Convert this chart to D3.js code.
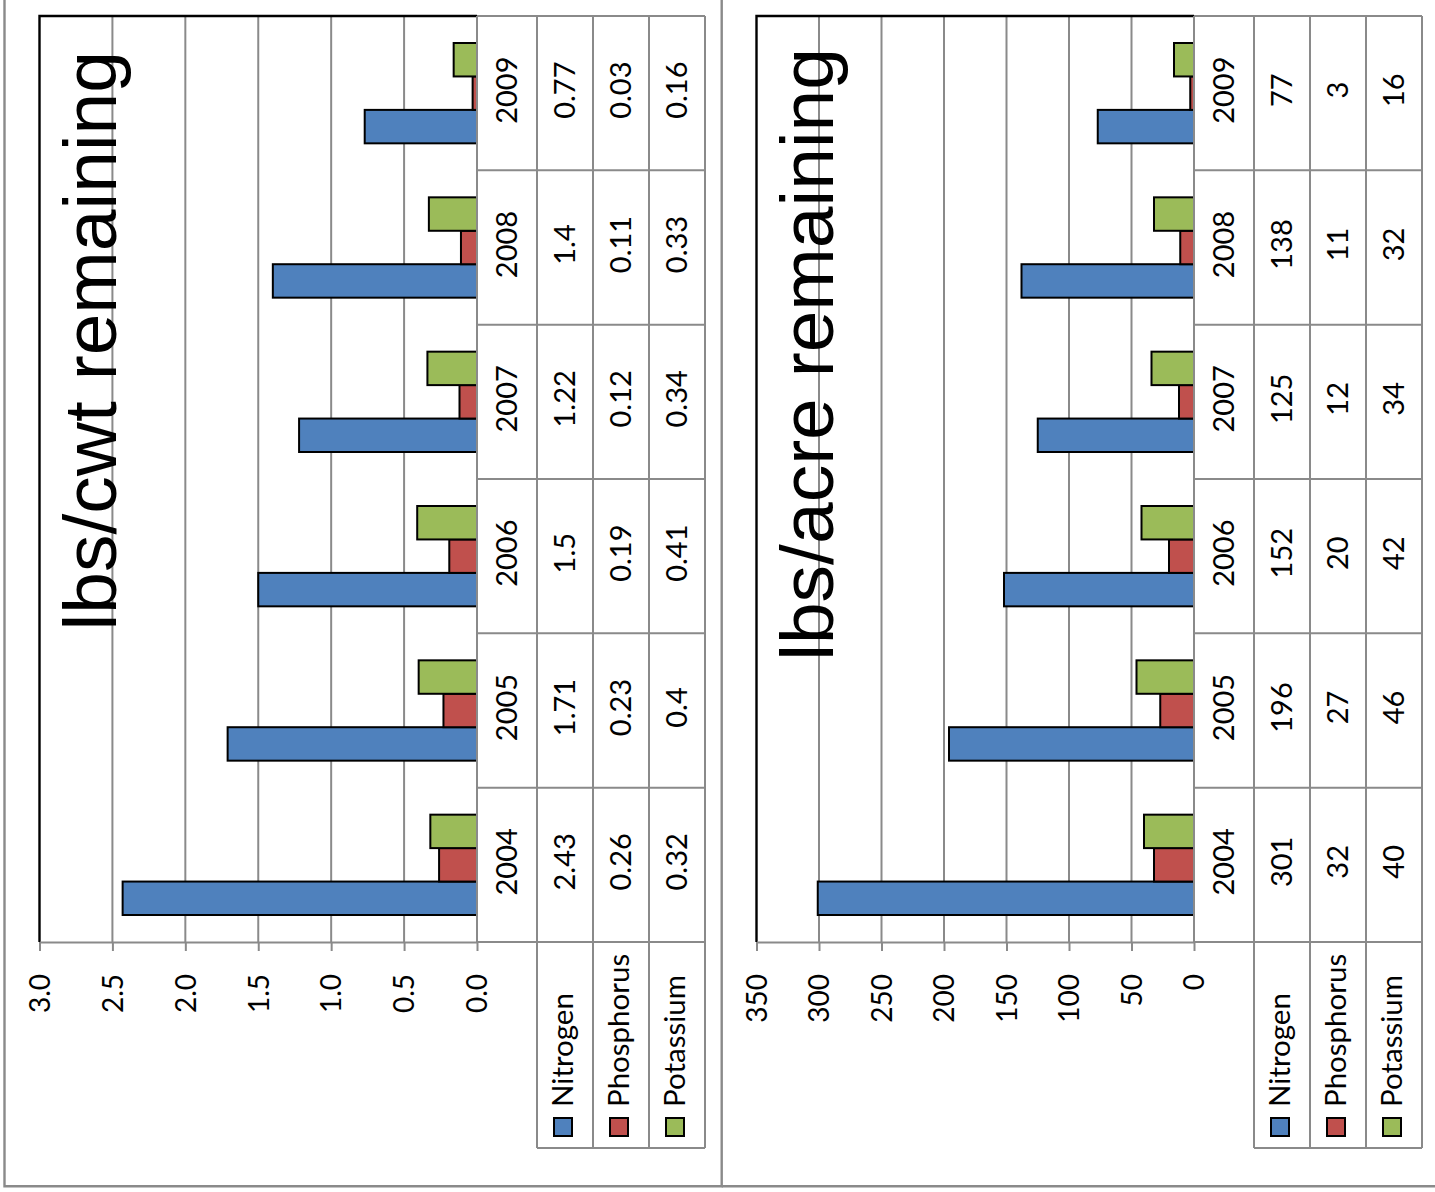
<!DOCTYPE html>
<html>
<head>
<meta charset="utf-8">
<script src="https://cdnjs.cloudflare.com/ajax/libs/d3/7.8.5/d3.min.js"></script>
<style>
  body { margin: 0; background: #fff; }
  svg { display: block; }
</style>
</head>
<body>
<svg id="chart" width="1435" height="1192"></svg>
<script>
// Fertilizer nutrients remaining, by year
const years = ["2004", "2005", "2006", "2007", "2008", "2009"];
const seriesNames = ["Nitrogen", "Phosphorus", "Potassium"];
const seriesColors = ["#4F81BD", "#C0504D", "#9BBB59"];

const cwtNitrogen   = [2.43, 1.71, 1.5, 1.22, 1.4, 0.77];
const cwtPhosphorus = [0.26, 0.23, 0.19, 0.12, 0.11, 0.03];
const cwtPotassium  = [0.32, 0.4, 0.41, 0.34, 0.33, 0.16];

const acreNitrogen   = [301, 196, 152, 125, 138, 77];
const acrePhosphorus = [32, 27, 20, 12, 11, 3];
const acrePotassium  = [40, 46, 42, 34, 32, 16];

const cwtTicks  = [0, 0.5, 1, 1.5, 2, 2.5, 3];
const acreTicks = [0, 50, 100, 150, 200, 250, 300, 350];

const panels = [
  { title: "lbs/cwt remaining", values: [cwtNitrogen, cwtPhosphorus, cwtPotassium],
    ticks: cwtTicks, fmt: d3.format(".1f"), dx: 0, titleEnd: 51 },
  { title: "lbs/acre remaining", values: [acreNitrogen, acrePhosphorus, acrePotassium],
    ticks: acreTicks, fmt: d3.format("d"), dx: 717, titleEnd: 48 }
];

// layout (panel-local, the chart is drawn turned on its side)
const plotLeft = 39.5, zeroX = 477, plotTop = 16, plotBottom = 942;
const colEdges = [477, 537, 593, 649, 705];
const legendBottom = 1148;
const GRAY = "#8a8a8a";
const SMALL_FONT = "Lato, 'Open Sans', sans-serif";

const svg = d3.select("#chart");

// outer chart frames
const frames = svg.append("g").attr("fill", "none").attr("stroke", GRAY).attr("stroke-width", 2.4);
frames.append("path").attr("d", "M4.5,-10V1186.3H721.7V-10");
frames.append("path").attr("d", "M721.7,1186.3H1445");

panels.forEach(p => {
  const g = svg.append("g").attr("transform", `translate(${p.dx},0)`);
  const maxV = p.ticks[p.ticks.length - 1];

  const x = d3.scaleLinear().domain([0, maxV]).range([zeroX, plotLeft]);
  const y = d3.scaleBand().domain(years).range([plotBottom, plotTop]);
  const pad = 27;
  const inner = d3.scaleBand().domain(seriesNames).range([y.bandwidth() - pad, pad]);

  // vertical gridlines
  g.append("g").selectAll("line")
    .data(p.ticks.filter(t => t > 0 && t < maxV))
    .join("line")
    .attr("x1", d => x(d)).attr("x2", d => x(d))
    .attr("y1", plotTop).attr("y2", plotBottom)
    .attr("stroke", GRAY).attr("stroke-width", 2);

  // plot border (top and far side)
  g.append("path")
    .attr("d", `M${plotLeft},${plotBottom}V${plotTop}H${zeroX}`)
    .attr("fill", "none").attr("stroke", "#000").attr("stroke-width", 2.4);

  // bars
  seriesNames.forEach((s, si) => {
    g.append("g").selectAll("rect")
      .data(p.values[si].map((v, i) => ({ year: years[i], v })))
      .join("rect")
      .attr("x", d => x(d.v))
      .attr("width", d => x(0) - x(d.v))
      .attr("y", d => y(d.year) + inner(s))
      .attr("height", inner.bandwidth())
      .attr("fill", seriesColors[si])
      .attr("stroke", "#000").attr("stroke-width", 2);
  });

  // value axis
  const axis = d3.axisBottom(x).tickValues(p.ticks).tickFormat(p.fmt).tickSize(9).tickSizeOuter(0);
  const ag = g.append("g").attr("transform", `translate(0,${plotBottom})`).call(axis);
  ag.select(".domain").attr("stroke", GRAY).attr("stroke-width", 2);
  ag.selectAll(".tick line").attr("stroke", GRAY).attr("stroke-width", 2);
  ag.selectAll(".tick text")
    .attr("transform", "rotate(-90)")
    .attr("x", -32).attr("y", 0).attr("dy", "0.35em")
    .attr("text-anchor", "end")
    .attr("fill", "#000")
    .style("font-family", SMALL_FONT).style("font-size", "28px");

  // data table grid
  const tg = g.append("g").attr("stroke", GRAY).attr("stroke-width", 2).attr("fill", "none");
  const rowEdges = years.map(yr => y(yr)).concat([plotTop]);
  rowEdges.forEach(ry => {
    tg.append("line").attr("x1", colEdges[0]).attr("x2", colEdges[4]).attr("y1", ry).attr("y2", ry);
  });
  tg.append("line").attr("x1", colEdges[0]).attr("x2", colEdges[4]).attr("y1", plotBottom).attr("y2", plotBottom);
  colEdges.forEach((cx, i) => {
    tg.append("line").attr("x1", cx).attr("x2", cx)
      .attr("y1", plotTop).attr("y2", i === 0 ? plotBottom : legendBottom);
  });
  tg.append("line").attr("x1", colEdges[1]).attr("x2", colEdges[4]).attr("y1", legendBottom).attr("y2", legendBottom);

  // table text: year column then one column per series
  const colCenter = i => (colEdges[i] + colEdges[i + 1]) / 2;
  const cells = [];
  years.forEach((yr, j) => {
    const cy = y(yr) + y.bandwidth() / 2 - 3;
    cells.push({ cx: colCenter(0), cy, text: yr });
    seriesNames.forEach((s, si) => cells.push({ cx: colCenter(si + 1), cy, text: String(p.values[si][j]) }));
  });
  g.append("g").selectAll("text").data(cells).join("text")
    .attr("transform", d => `translate(${d.cx},${d.cy}) rotate(-90)`)
    .attr("text-anchor", "middle").attr("dy", "0.35em")
    .style("font-family", SMALL_FONT).style("font-size", "29px")
    .text(d => d.text);

  // legend in the row headers
  const lg = g.append("g").selectAll("g").data(seriesNames).join("g")
    .attr("transform", (d, i) => `translate(${colCenter(i + 1) - 2},0)`);
  lg.append("rect")
    .attr("x", -9).attr("y", 1118).attr("width", 18).attr("height", 18)
    .attr("fill", (d, i) => seriesColors[i]).attr("stroke", "#000").attr("stroke-width", 2);
  lg.append("text")
    .attr("transform", "translate(0,1107) rotate(-90)")
    .attr("text-anchor", "start").attr("dy", "0.35em")
    .style("font-family", SMALL_FONT).style("font-size", "29.5px")
    .text(d => d);

  // title
  g.append("text")
    .attr("transform", `translate(116,${p.titleEnd}) rotate(-90)`)
    .attr("text-anchor", "end")
    .style("font-family", "'Liberation Sans', Arial, sans-serif").style("font-size", "75px")
    .text(p.title);
});
</script>
</body>
</html>
